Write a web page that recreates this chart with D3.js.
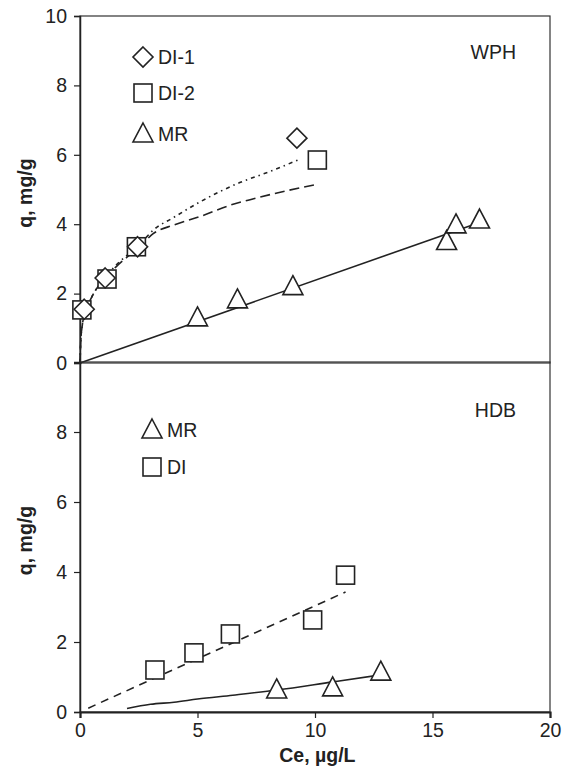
<!DOCTYPE html>
<html>
<head>
<meta charset="utf-8">
<script src="https://cdn.jsdelivr.net/npm/d3@7"></script>
<style>
  body { margin: 0; background: #fff; }
  svg { font-family: "Liberation Sans", Arial, sans-serif; }
</style>
</head>
<body>
<div id="chart"></div>
<script>
// WPH panel (top)
var wphDI1 = [[0.18, 1.55], [1.07, 2.45], [2.45, 3.35], [9.23, 6.48]];
var wphDI2 = [[0.08, 1.53], [1.15, 2.42], [2.4, 3.35], [10.1, 5.85]];
var wphMR = [[5.0, 1.3], [6.7, 1.82], [9.06, 2.2], [15.6, 3.5], [16.0, 3.98], [17.0, 4.12]];
var wphMRfit = [[0, 0], [16.7, 3.98]];
var wphDI1fit = [[0, 0], [0.03, 0.6], [0.1, 1.1], [0.2, 1.4], [0.5, 1.9], [1, 2.4], [1.5, 2.8], [2, 3.1], [2.5, 3.38], [3.1, 3.82], [4, 4.2], [5.1, 4.64], [6.8, 5.2], [8, 5.5], [9.35, 5.87]];
var wphDI2fit = [[0, 0], [0.03, 0.6], [0.1, 1.1], [0.2, 1.4], [0.5, 1.9], [1, 2.4], [1.5, 2.75], [2, 3.05], [2.5, 3.32], [3.1, 3.72], [4, 3.98], [5.1, 4.22], [6.4, 4.55], [7.2, 4.7], [8.9, 4.98], [10.1, 5.15]];

// HDB panel (bottom)
var hdbMR = [[8.37, 0.63], [10.75, 0.69], [12.8, 1.14]];
var hdbDI = [[3.19, 1.2], [4.85, 1.69], [6.4, 2.23], [9.9, 2.63], [11.3, 3.91]];
var hdbMRfit = [[2, 0.1], [3, 0.22], [4, 0.28], [5, 0.37], [6.5, 0.48], [8.4, 0.63], [10.75, 0.86], [12.8, 1.06]];
var hdbDIfit = [[0.35, 0.11], [11.3, 3.43]];

var xTicks = [0, 5, 10, 15, 20];
var yTicksTop = [0, 2, 4, 6, 8, 10];
var yTicksBot = [0, 2, 4, 6, 8];

var W = 573, H = 776;
var FS = 19.5;
var svg = d3.select("#chart").append("svg").attr("width", W).attr("height", H);

var x = d3.scaleLinear().domain([0, 20]).range([80, 550]);
var yTop = d3.scaleLinear().domain([0, 10]).range([363, 16]);
var yBot = d3.scaleLinear().domain([0, 10]).range([712, 362]);

function marker(g, type, cx, cy) {
  var p;
  if (type == "square") {
    p = g.append("rect").attr("x", cx - 9).attr("y", cy - 9).attr("width", 18).attr("height", 18);
  } else if (type == "diamond") {
    p = g.append("path").attr("d", "M" + cx + "," + (cy - 10) + "L" + (cx + 10) + "," + cy + "L" + cx + "," + (cy + 10) + "L" + (cx - 10) + "," + cy + "Z");
  } else {
    p = g.append("path").attr("d", "M" + cx + "," + (cy - 11) + "L" + (cx + 10) + "," + (cy + 8) + "L" + (cx - 10) + "," + (cy + 8) + "Z");
  }
  p.attr("fill", "#fff").attr("stroke", "#222").attr("stroke-width", 1.6);
}

function panel(y, ticks, label, labelY, fits, series, legend) {
  var g = svg.append("g");
  // frame
  g.append("rect")
    .attr("x", x(0)).attr("y", y(10))
    .attr("width", x(20) - x(0)).attr("height", y(0) - y(10))
    .attr("fill", "none").attr("stroke", "#333").attr("stroke-width", 1.2);

  var yAxis = d3.axisLeft(y).tickValues(ticks).tickSize(6).tickPadding(7);
  var ya = g.append("g").attr("transform", "translate(" + x(0) + ",0)").call(yAxis);
  ya.select(".domain").attr("stroke", "#222").attr("stroke-width", 1.5);
  ya.selectAll("line").attr("stroke", "#222").attr("stroke-width", 1.2);
  ya.selectAll("text").attr("font-size", FS).attr("fill", "#222").attr("font-family", "Liberation Sans, Arial, sans-serif");

  g.append("text")
    .attr("transform", "translate(32," + y(4.9) + ") rotate(-90)")
    .attr("text-anchor", "middle")
    .attr("font-size", FS).attr("font-weight", "bold").attr("fill", "#222")
    .text("q, mg/g");

  g.append("text").attr("x", 516).attr("y", labelY).attr("text-anchor", "end")
    .attr("font-size", FS).attr("fill", "#222").text(label);

  var line = d3.line().x(d => x(d[0])).y(d => y(d[1])).curve(d3.curveMonotoneX);
  fits.forEach(function(f) {
    g.append("path").datum(f.data).attr("d", line)
      .attr("fill", "none").attr("stroke", "#222").attr("stroke-width", 1.6)
      .attr("stroke-dasharray", f.dash);
  });

  series.forEach(function(s) {
    s.data.forEach(function(d) { marker(g, s.type, x(d[0]), y(d[1])); });
  });

  legend.forEach(function(l) {
    marker(g, l.type, l.x, l.y);
    g.append("text").attr("x", l.x + 15).attr("y", l.y + 7)
      .attr("font-size", FS).attr("fill", "#222").text(l.name);
  });
  return g;
}

panel(yTop, yTicksTop, "WPH", 59,
  [{data: wphMRfit, dash: null}, {data: wphDI1fit, dash: "4,4,1.5,4"}, {data: wphDI2fit, dash: "10,5"}],
  [{type: "square", data: wphDI2}, {type: "diamond", data: wphDI1}, {type: "triangle", data: wphMR}],
  [{type: "diamond", name: "DI-1", x: 143, y: 57}, {type: "square", name: "DI-2", x: 143, y: 93}, {type: "triangle", name: "MR", x: 143, y: 134}]);

panel(yBot, yTicksBot, "HDB", 417,
  [{data: hdbMRfit, dash: null}, {data: hdbDIfit, dash: "8,6"}],
  [{type: "square", data: hdbDI}, {type: "triangle", data: hdbMR}],
  [{type: "triangle", name: "MR", x: 152, y: 430}, {type: "square", name: "DI", x: 152, y: 467}]);

// bottom x axis
var xAxis = d3.axisBottom(x).tickValues(xTicks).tickSize(6).tickPadding(5);
var xa = svg.append("g").attr("transform", "translate(0," + yBot(0) + ")").call(xAxis);
xa.select(".domain").attr("stroke", "#222").attr("stroke-width", 2.2);
xa.selectAll("line").attr("stroke", "#222").attr("stroke-width", 1.2);
xa.selectAll("text").attr("font-size", FS).attr("fill", "#222").attr("font-family", "Liberation Sans, Arial, sans-serif");

svg.append("text").attr("x", x(10.1)).attr("y", 762).attr("text-anchor", "middle")
  .attr("font-size", FS).attr("font-weight", "bold").attr("fill", "#222")
  .text("Ce, µg/L");
</script>
</body>
</html>
